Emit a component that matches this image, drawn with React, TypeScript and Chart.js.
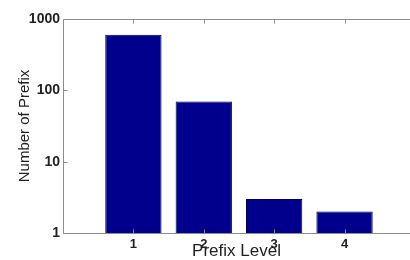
import React, { useEffect, useRef } from "react";
import { Chart, registerables } from "chart.js";

Chart.register(...registerables);

const levels = [1, 2, 3, 4];
const prefixCounts = [600, 70, 3, 2];
const yTickValues = [1, 10, 100, 1000];
const xTickValues = [1, 2, 3, 4];

const FONT = 'Arial, "Liberation Sans", Helvetica, sans-serif';

const framePlugin = {
  id: "matlabFrame",
  afterDatasetsDraw(chart: any) {
    const { ctx, chartArea, scales } = chart;
    const { left, right, top, bottom } = chartArea;
    const xs = scales.x;
    const ys = scales.y;
    ctx.save();
    ctx.strokeStyle = "#8c8c8c";
    ctx.lineWidth = 1;
    ctx.beginPath();
    const L = Math.round(left) + 0.5;
    const T = Math.round(top) + 0.5;
    const B = Math.round(bottom) + 0.5;
    ctx.moveTo(L, T);
    ctx.lineTo(right + 2, T);
    ctx.moveTo(L, T);
    ctx.lineTo(L, B);
    ctx.moveTo(L, B);
    ctx.lineTo(right + 2, B);
    xTickValues.forEach((v) => {
      const px = Math.round(xs.getPixelForValue(v)) + 0.5;
      ctx.moveTo(px, T);
      ctx.lineTo(px, T + 4);
      ctx.moveTo(px, B);
      ctx.lineTo(px, B - 4);
    });
    yTickValues.forEach((v) => {
      const py = Math.round(ys.getPixelForValue(v)) + 0.5;
      ctx.moveTo(L, py);
      ctx.lineTo(L + 4, py);
    });
    ctx.stroke();
    ctx.restore();
  },
};

export default function App() {
  const ref = useRef<HTMLCanvasElement>(null);

  useEffect(() => {
    if (!ref.current) return;
    const chart = new Chart(ref.current, {
      type: "bar",
      data: {
        datasets: [
          {
            data: levels.map((x, i) => ({ x, y: prefixCounts[i] })),
            backgroundColor: "#00008c",
            borderColor: "#00004a",
            borderWidth: 1,
            barPercentage: 0.8,
            categoryPercentage: 1,
          },
        ],
      },
      options: {
        responsive: false,
        animation: false,
        layout: { padding: { top: 19, right: 0, left: 0, bottom: 0 } },
        plugins: { legend: { display: false }, tooltip: { enabled: false } },
        scales: {
          x: {
            type: "linear",
            min: 0,
            max: 4.93,
            offset: false,
            grid: { display: false, drawTicks: false, offset: false },
            border: { display: false },
            afterBuildTicks: (s: any) => {
              s.ticks = xTickValues.map((v) => ({ value: v }));
            },
            afterFit: (s: any) => {
              s.height = 27;
            },
            ticks: {
              padding: 5,
              maxRotation: 0,
              autoSkip: false,
              color: "#222",
              font: { family: FONT, size: 13, weight: "bold", lineHeight: 1 },
              callback: (v: any) => String(v),
            },
            title: {
              display: true,
              text: "Prefix Level",
              color: "#222",
              font: { family: FONT, size: 17, lineHeight: 1 },
              padding: { top: 0, bottom: 0 },
            },
          },
          y: {
            type: "logarithmic",
            min: 1,
            max: 1000,
            grid: { display: false, drawTicks: false },
            border: { display: false },
            afterBuildTicks: (s: any) => {
              s.ticks = yTickValues.map((v) => ({ value: v }));
            },
            afterFit: (s: any) => {
              s.width = 63;
            },
            ticks: {
              padding: 3,
              autoSkip: false,
              color: "#222",
              font: { family: FONT, size: 14, weight: "bold" },
              callback: (v: any) => String(v),
            },
            title: {
              display: true,
              text: "Number of Prefix",
              color: "#222",
              font: { family: FONT, size: 15, lineHeight: 1 },
              padding: { top: 17, bottom: 0 },
            },
          },
        },
      },
      plugins: [framePlugin],
    } as any);
    return () => chart.destroy();
  }, []);

  return (
    <div style={{ position: "fixed", left: 0, top: 0, width: 410, height: 260, background: "#fff" }}>
      <canvas ref={ref} width={410} height={260} />
    </div>
  );
}
